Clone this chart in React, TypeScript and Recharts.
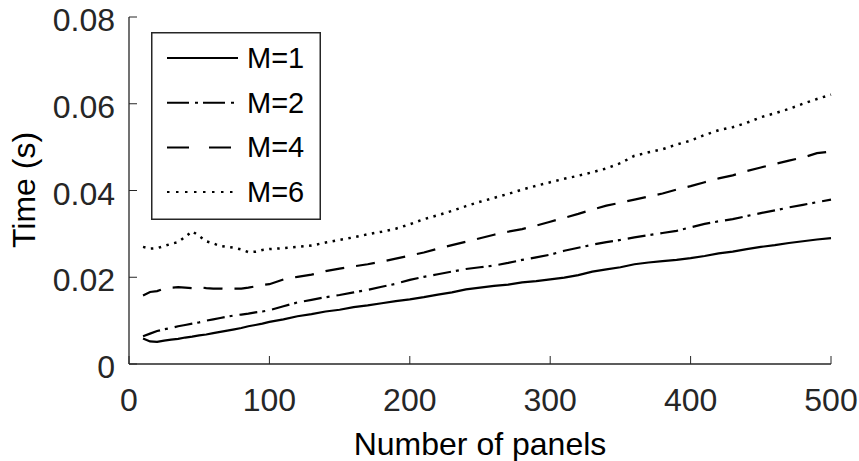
import React from "react";
import { LineChart, Line, XAxis, YAxis } from "recharts";

// number of panels (x)
const panels = [
  10, 15, 20, 25, 30, 35, 40, 45, 50, 55, 60, 65, 70, 75, 80, 85, 90, 95, 100,
  110, 120, 130, 140, 150, 160, 170, 180, 190, 200,
  210, 220, 230, 240, 250, 260, 270, 280, 290, 300,
  310, 320, 330, 340, 350, 360, 370, 380, 390, 400,
  410, 420, 430, 440, 450, 460, 470, 480, 490, 500,
];

// time (s) for each M
const timeM1 = [
  0.0059, 0.0052, 0.0051, 0.0054, 0.0056, 0.0058, 0.0061, 0.0063, 0.0066, 0.0068,
  0.0071, 0.0074, 0.0077, 0.008, 0.0083, 0.0087, 0.009, 0.0093, 0.0097,
  0.0103, 0.011, 0.0115, 0.0121, 0.0125, 0.0131, 0.0135, 0.014, 0.0145, 0.0149,
  0.0154, 0.016, 0.0165, 0.0172, 0.0176, 0.018, 0.0183, 0.0188, 0.0191, 0.0195,
  0.0199, 0.0205, 0.0213, 0.0218, 0.0223, 0.023, 0.0234, 0.0237, 0.024, 0.0244,
  0.0249, 0.0255, 0.0259, 0.0265, 0.027, 0.0274, 0.0279, 0.0283, 0.0287, 0.029,
];
const timeM2 = [
  0.0064, 0.007, 0.0076, 0.008, 0.0083, 0.0087, 0.009, 0.0093, 0.0096, 0.01,
  0.0103, 0.0106, 0.0109, 0.0112, 0.0114, 0.0116, 0.0119, 0.0121, 0.0124,
  0.0133, 0.0142, 0.0148, 0.0154, 0.0159, 0.0165, 0.0171, 0.0178, 0.0185, 0.0194,
  0.0201, 0.0207, 0.0213, 0.0219, 0.0223, 0.0227, 0.0233, 0.024, 0.0246, 0.0252,
  0.0261, 0.0268, 0.0275, 0.0281, 0.0286, 0.0292, 0.0297, 0.0302, 0.0307, 0.0315,
  0.0323, 0.0329, 0.0334, 0.0341, 0.0348, 0.0354, 0.0361, 0.0367, 0.0373, 0.0379,
];
const timeM4 = [
  0.0158, 0.0166, 0.0168, 0.0174, 0.0176, 0.0177, 0.0176, 0.0175, 0.0177, 0.0175,
  0.0174, 0.0174, 0.0173, 0.0174, 0.0174, 0.0176, 0.0179, 0.0182, 0.0184,
  0.0195, 0.0201, 0.0206, 0.0214, 0.022, 0.0225, 0.023, 0.0236, 0.0243, 0.025,
  0.0257, 0.0266, 0.0274, 0.0282, 0.029, 0.0298, 0.0305, 0.0311, 0.0319, 0.0328,
  0.0337, 0.0346, 0.0356, 0.0365, 0.0372, 0.0379, 0.0386, 0.0393, 0.0402, 0.041,
  0.0419, 0.0428, 0.0435, 0.0445, 0.0453, 0.0461, 0.0469, 0.0476, 0.0486, 0.049,
];
const timeM6 = [
  0.027, 0.0266, 0.0267, 0.0272, 0.0277, 0.0281, 0.0293, 0.0306, 0.0295, 0.0283,
  0.0278, 0.0272, 0.027, 0.0268, 0.0264, 0.0258, 0.0259, 0.0263, 0.0265,
  0.0267, 0.027, 0.0273, 0.028, 0.0286, 0.0292, 0.0299, 0.0305, 0.0312, 0.0322,
  0.0334, 0.0343, 0.0353, 0.0364, 0.0374, 0.0383, 0.0392, 0.0402, 0.0411, 0.0419,
  0.0427, 0.0434, 0.0442, 0.0451, 0.0463, 0.048, 0.0488, 0.0495, 0.0506, 0.0515,
  0.0528, 0.0539, 0.0546, 0.0556, 0.0569, 0.0578, 0.0588, 0.06, 0.0611, 0.0621,
];

const xTicks = [0, 100, 200, 300, 400, 500];
const yTicks = [0, 0.02, 0.04, 0.06, 0.08];

const seriesKeys = ["m1", "m2", "m4", "m6"];
const seriesNames = ["M=1", "M=2", "M=4", "M=6"];

const data = panels.map((n, i) => ({
  n,
  m1: timeM1[i],
  m2: timeM2[i],
  m4: timeM4[i],
  m6: timeM6[i],
}));

// plot box (matlab-ish axes)
const L = 129;
const R = 831;
const T = 17;
const B = 364;
const INK = "#262626";
const FONT = "'Liberation Sans', Arial, sans-serif";
const FS = 32; // axes text
const LFS = 29; // legend text
const TICK = 8;

const XTick = ({ x, payload }: any) => (
  <g>
    <line x1={x} x2={x} y1={B} y2={B - TICK} stroke={INK} strokeWidth={1} />
    <text x={x} y={B + 47} textAnchor="middle" fill={INK} fontSize={FS} fontFamily={FONT}>
      {payload.value}
    </text>
  </g>
);
const XTopTick = ({ x }: any) => (
  <line x1={x} x2={x} y1={T} y2={T + TICK} stroke={INK} strokeWidth={1} />
);
const YTick = ({ y, payload }: any) => (
  <g>
    <line x1={L} x2={L + TICK} y1={y} y2={y} stroke={INK} strokeWidth={1} />
    <text x={L - 14} y={y + 14} textAnchor="end" fill={INK} fontSize={FS} fontFamily={FONT}>
      {payload.value}
    </text>
  </g>
);
const YRightTick = ({ y }: any) => (
  <line x1={R} x2={R - TICK} y1={y} y2={y} stroke={INK} strokeWidth={1} />
);

const XLabel = () => (
  <text x={(L + R) / 2} y={455} textAnchor="middle" fill="#000" fontSize={FS} fontFamily={FONT}>
    Number of panels
  </text>
);
const YLabel = () => (
  <text transform="translate(35,190) rotate(-90)" textAnchor="middle" fill="#000" fontSize={FS} fontFamily={FONT}>
    Time (s)
  </text>
);

const lineDash: Record<string, string | undefined> = {
  m1: undefined,
  m2: "18 5 3 7",
  m4: "19 12",
  m6: "2.5 5.5",
};
const legendDash: Record<string, string | undefined> = {
  m1: undefined,
  m2: "22 6 3 5",
  m4: "22 20",
  m6: "2.5 6.5",
};

const LegendBox = () => (
  <svg width={170} height={188} style={{ position: "absolute", left: 151, top: 32, display: "block" }}>
    <rect x={0.75} y={0.75} width={168.5} height={186.5} fill="#fff" stroke={INK} strokeWidth={1.5} />
    {seriesKeys.map((k, i) => {
      const cy = 26 + i * 44.7;
      return (
        <g key={k}>
          <line x1={16} x2={87} y1={cy} y2={cy} stroke="#000" strokeWidth={2} strokeDasharray={legendDash[k]} />
          <text x={96} y={cy + 10} fill="#000" fontSize={LFS} fontFamily={FONT}>
            {seriesNames[i]}
          </text>
        </g>
      );
    })}
  </svg>
);

export default function App() {
  return (
    <div style={{ width: 859, height: 461, position: "relative", background: "#fff" }}>
      <style>{`body{margin:0}`}</style>
      <LineChart width={859} height={461} data={data} margin={{ top: T, right: 859 - R, bottom: 0, left: 0 }}>
        <XAxis
          xAxisId="b"
          dataKey="n"
          type="number"
          domain={[0, 500]}
          ticks={xTicks}
          interval={0}
          height={461 - B}
          tickLine={false}
          tickSize={0}
          axisLine={{ stroke: INK, strokeWidth: 1.3 }}
          tick={XTick}
          label={<XLabel />}
        />
        <XAxis
          xAxisId="t"
          orientation="top"
          dataKey="n"
          type="number"
          domain={[0, 500]}
          ticks={xTicks}
          interval={0}
          height={0}
          tickLine={false}
          tickSize={0}
          axisLine={{ stroke: INK, strokeWidth: 1.3 }}
          tick={XTopTick}
        />
        <YAxis
          yAxisId="l"
          type="number"
          domain={[0, 0.08]}
          ticks={yTicks}
          interval={0}
          width={L}
          tickLine={false}
          tickSize={0}
          axisLine={{ stroke: INK, strokeWidth: 1.3 }}
          tick={YTick}
          label={<YLabel />}
        />
        <YAxis
          yAxisId="r"
          orientation="right"
          type="number"
          domain={[0, 0.08]}
          ticks={yTicks}
          interval={0}
          width={0}
          tickLine={false}
          tickSize={0}
          axisLine={{ stroke: INK, strokeWidth: 1.3 }}
          tick={YRightTick}
        />
        {seriesKeys.map((k, i) => (
          <Line
            key={k}
            xAxisId="b"
            yAxisId="l"
            dataKey={k}
            name={seriesNames[i]}
            stroke="#000"
            strokeWidth={k === "m6" ? 2.5 : 2.2}
            strokeDasharray={lineDash[k]}
            dot={false}
            isAnimationActive={false}
          />
        ))}
      </LineChart>
      <LegendBox />
    </div>
  );
}
